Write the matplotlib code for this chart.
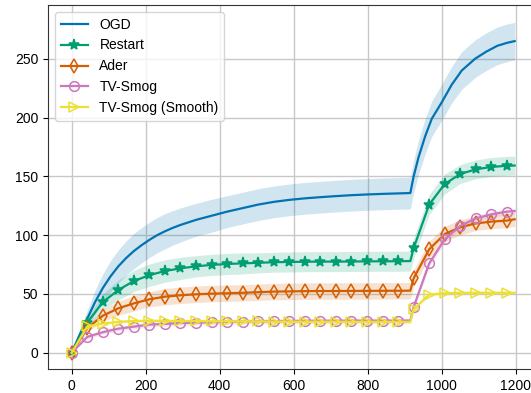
import numpy as np
import matplotlib
matplotlib.use("Agg")
import matplotlib.pyplot as plt

plt.rcParams['font.family'] = ['Liberation Sans', 'DejaVu Sans']
plt.rcParams['font.size'] = 10

# OGD has no markers, read on a finer grid
t_ogd = [0, 21, 42, 63, 84, 105, 126, 147, 168, 189, 210, 231, 252, 273, 294, 336, 378, 420, 462, 504,
         546, 588, 630, 672, 714, 756, 798, 840, 882, 915, 924, 937, 955, 973, 1000, 1027,
         1054, 1090, 1120, 1150, 1176, 1197]
ogd = [0, 15, 29, 43, 55, 65, 73.5, 80.5, 86.5, 91.5, 96, 100, 103.3, 106.2, 108.7, 113, 116.5, 120, 123, 126,
       128.3, 130, 131.3, 132.3, 133.2, 134, 134.6, 135.1, 135.5, 135.8, 150, 166, 184, 199, 213, 228,
       240, 250, 256, 261, 263.5, 265]
ogd_std = [0, 4, 7, 10, 12, 13.5, 14, 14.5, 15, 15, 15, 15, 15, 14.7, 14.5, 14, 14, 13.5, 13.5, 13.5,
           13.5, 13.5, 13.5, 13.5, 13.5, 13.5, 13.5, 13.5, 13.5, 13.5, 14, 14.5, 15, 15, 15.5, 15.5,
           16, 16, 16, 16, 16, 16]

# time steps for marked series (markers every 42 steps, 915 = change point, 1197 = end)
t = [0, 42, 84, 126, 168, 210, 252, 294, 336, 378, 420, 462, 504, 546, 588, 630,
     672, 714, 756, 798, 840, 882, 915, 924, 966, 1008, 1050, 1092, 1134, 1176, 1197]

restart = [0, 25.6, 43, 53.4, 61, 66, 69.5, 71.8, 73.5, 74.7, 75.5, 76, 76.5, 77, 77.2, 77.4,
           77.5, 77.5, 77.6, 77.7, 77.8, 77.8, 78, 89, 126, 143.5, 152, 156, 158, 159, 159.2]
restart_std = [0, 4, 7, 8.5, 9, 9.5, 9.5, 9.5, 9, 9, 9, 9, 8.5, 8.5, 8.5, 8.5,
               8.5, 8.5, 8.5, 8.5, 8.5, 8.5, 8.5, 8.5, 8.5, 8.5, 8, 8, 8, 8, 8]

ader = [0, 21, 31.5, 37.8, 42, 45.5, 47.7, 48.9, 49.7, 50.3, 50.6, 51, 51.5, 52, 52.2, 52.4,
        52.5, 52.5, 52.6, 52.6, 52.7, 52.7, 52.8, 63.3, 88, 101, 106.7, 110, 111.5, 112.4, 113.5]
ader_std = [0, 3, 5, 6, 6.5, 6.5, 7, 7, 7, 7, 7, 7, 7, 7, 7, 7,
            7, 7, 7, 7, 7, 7, 7, 7, 7, 6.5, 6.5, 6, 6, 6, 6]

smog = [0, 13.5, 17.5, 20.5, 22.2, 24, 24.5, 25.3, 25.6, 26, 26.3, 26.5, 26.7, 26.9, 27, 27.1,
        27.2, 27.2, 27.3, 27.3, 27.3, 27.3, 27.4, 39, 76, 96.5, 107.8, 114.3, 117.7, 120, 120.5]
smog_std = [0, 1.5, 2, 2, 2, 2, 2, 2, 2, 2, 2, 2, 2, 2, 2, 2,
            2, 2, 2, 2, 2, 2, 2, 2.5, 3, 3, 3, 2.5, 2.5, 2.5, 2.5]

smooth = [0, 22.5, 24.8, 26.3, 27, 27.2, 27.1, 27, 26.9, 26.8, 26.7, 26.6, 26.6, 26.5, 26.5, 26.4,
          26.4, 26.4, 26.3, 26.3, 26.3, 26.3, 26.3, 37, 49.5, 50.6, 51, 51, 51, 51, 51]
smooth_std = [0, 1.5, 1.5, 1.5, 1.5, 1.5, 1.5, 1.5, 1.5, 1.5, 1.5, 1.5, 1.5, 1.5, 1.5, 1.5,
              1.5, 1.5, 1.5, 1.5, 1.5, 1.5, 1.5, 1.5, 1.5, 1.5, 1.5, 1.5, 1.5, 1.5, 1.5]

# markers only on the 42-step grid
marks = list(range(0, 22)) + list(range(23, 30))

series = [
    ("OGD", t_ogd, ogd, ogd_std, "#0173b2", None, True),
    ("Restart", t, restart, restart_std, "#029e73", "*", True),
    ("Ader", t, ader, ader_std, "#d55e00", "d", False),
    ("TV-Smog", t, smog, smog_std, "#cc78bc", "o", False),
    ("TV-Smog (Smooth)", t, smooth, smooth_std, "#ece133", ">", False),
]

fig = plt.figure(figsize=(5.31, 3.93), dpi=100)
ax = fig.add_axes([48 / 531, 24 / 393, 490 / 531, 364 / 393])

for name, x, y, s, c, m, filled in series:
    x = np.array(x)
    y = np.array(y)
    s = np.array(s)
    ax.fill_between(x, y - s, y + s, color=c, alpha=0.18, lw=0)
    if m is None:
        ax.plot(x, y, color=c, lw=1.6, label=name)
    else:
        ax.plot(x, y, color=c, lw=1.6, marker=m, markevery=marks,
                markersize=8 if m == "*" else 7,
                fillstyle="full" if filled else "none", markeredgewidth=1.1,
                label=name)

ax.set_xlim(-64, 1260)
ax.set_ylim(-13.8, 295.7)
ax.set_xticks([0, 200, 400, 600, 800, 1000, 1200])
ax.set_yticks([0, 50, 100, 150, 200, 250])
ax.grid(True, color="#c8c8c8", lw=1)
ax.set_axisbelow(True)
for sp in ax.spines.values():
    sp.set_color("#333333")
ax.legend(loc="upper left", fontsize=10, handlelength=2.0, labelspacing=0.5,
          borderaxespad=0.5)

fig.savefig("out.png", dpi=100)
